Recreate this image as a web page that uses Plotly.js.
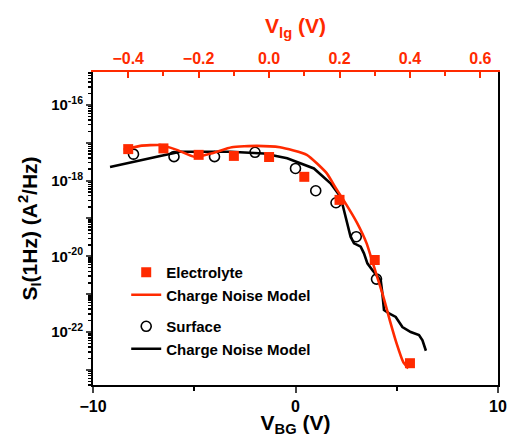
<!DOCTYPE html>
<html>
<head>
<meta charset="utf-8">
<script src="https://cdn.plot.ly/plotly-3.0.1.min.js"></script>
<style>
  html, body { margin: 0; padding: 0; background: #fff; }
  #chart { width: 508px; height: 437px; }
</style>
</head>
<body>
<div id="chart"></div>
<script>
// Electrolyte-gated measurement (plotted against the top V_lg axis)
const electrolyteVlg = [-0.4, -0.3, -0.2, -0.1, 0.0, 0.1, 0.2, 0.3, 0.4];
const electrolyteS   = [6.8e-18, 7.1e-18, 4.8e-18, 4.5e-18, 4.2e-18, 1.26e-18, 3.1e-19, 8.0e-21, 1.5e-23];

// Charge noise model for the electrolyte gate
const modelLgV = [-0.413, -0.366, -0.309, -0.262, -0.210, -0.159, -0.106, -0.035, 0.031, 0.107,
                  0.164, 0.187, 0.211, 0.249, 0.277, 0.296, 0.324, 0.343, 0.362, 0.381, 0.395];
const modelLgS = [6.5e-18, 8.3e-18, 8.7e-18, 6.5e-18, 4.2e-18, 5.4e-18, 7.6e-18, 8.3e-18, 7.6e-18, 4.8e-18,
                  1.55e-18, 6.9e-19, 3.1e-19, 7.9e-20, 2.2e-20, 6.0e-21, 8.9e-22, 2.0e-22, 5.0e-23, 1.6e-23, 1.1e-23];

// Surface (back-gated) measurement (bottom V_BG axis)
const surfaceVbg = [-8, -6, -4, -2, 0, 1, 2, 3, 4];
const surfaceS   = [5.0e-18, 4.3e-18, 4.3e-18, 5.6e-18, 2.1e-18, 5.4e-19, 2.6e-19, 3.3e-20, 2.5e-21];

// Charge noise model for the back gate
const modelBgV = [-9.16, -8.00, -6.68, -5.69, -4.86, -3.22, -1.57, -0.41, 0.91, 1.73,
                  2.23, 2.39, 2.56, 2.72, 2.89, 3.22, 3.38, 3.55, 3.80, 4.04,
                  4.21, 4.29, 4.37, 4.62, 4.95, 5.28, 5.69, 6.10, 6.27, 6.44];
const modelBgS = [2.3e-18, 3.2e-18, 4.5e-18, 5.8e-18, 5.8e-18, 5.8e-18, 5.2e-18, 3.9e-18, 2.1e-18, 8.5e-19,
                  3.7e-19, 1.66e-19, 7.4e-20, 3.3e-20, 2.2e-20, 1.8e-20, 1.2e-20, 6.5e-21, 4.3e-21, 2.9e-21,
                  2.3e-21, 1.05e-21, 3.8e-22, 3.1e-22, 2.5e-22, 1.35e-22, 1.0e-22, 8.3e-23, 6.0e-23, 3.2e-23];

// Decade ticks, labelled every second decade
const decadeExp = [-23, -22, -21, -20, -19, -18, -17, -16, -15];
const decadeVals = decadeExp.map(e => Math.pow(10, e));
const decadeText = decadeExp.map(e => (e % 2 === 0) ? '10<sup>' + e + '</sup>' : '');

const RED = '#ff2a00';
const FONT = 'Liberation Sans, Arial, sans-serif';

const traces = [
  {
    x: electrolyteVlg, y: electrolyteS, xaxis: 'x2', yaxis: 'y',
    mode: 'markers', name: 'Electrolyte', legendgroup: 'e',
    marker: { symbol: 'square', size: 10, color: RED }
  },
  {
    x: modelLgV, y: modelLgS, xaxis: 'x2', yaxis: 'y',
    mode: 'lines', name: 'Charge Noise Model', legendgroup: 'e',
    line: { color: RED, width: 2.6, shape: 'spline', smoothing: 0.5 }
  },
  {
    x: surfaceVbg, y: surfaceS, xaxis: 'x', yaxis: 'y',
    mode: 'markers', name: 'Surface', legendgroup: 's',
    marker: { symbol: 'circle-open', size: 10, color: '#000', line: { width: 1.6, color: '#000' } }
  },
  {
    x: modelBgV, y: modelBgS, xaxis: 'x', yaxis: 'y',
    mode: 'lines', name: 'Charge Noise Model', legendgroup: 's',
    line: { color: '#000', width: 2.6 }
  }
];

const yRange = [-23.4, -15.13];

const layout = {
  width: 508, height: 437,
  margin: { l: 93, r: 10, t: 72, b: 52 },
  paper_bgcolor: '#fff', plot_bgcolor: '#fff',
  font: { family: FONT, size: 16, color: '#000', weight: 'bold' },
  showlegend: true,
  legend: {
    x: 0.082, y: 0.412, xanchor: 'left', yanchor: 'top',
    bgcolor: 'rgba(0,0,0,0)', traceorder: 'grouped', tracegroupgap: 9,
    font: { family: FONT, size: 15, color: '#000', weight: 'bold' }
  },
  xaxis: {
    range: [-10, 10], tickvals: [-10, 0, 10], ticks: 'outside', ticklen: 6, tickwidth: 2,
    minor: { tickvals: [-5, 5], ticks: 'outside', ticklen: 4, tickwidth: 2, tickcolor: '#000' },
    showline: true, linecolor: '#000', linewidth: 2, showgrid: false, zeroline: false,
    tickfont: { family: FONT, size: 16, color: '#000', weight: 'bold' },
    title: { text: 'V<sub>BG</sub> (V)', standoff: 8,
             font: { family: FONT, size: 21, color: '#000', weight: 'bold' } }
  },
  xaxis2: {
    overlaying: 'x', side: 'top', anchor: 'y',
    range: [-0.5, 0.65], dtick: 0.2, tick0: 0, tickformat: '.1f',
    ticks: 'inside', ticklen: 6, tickwidth: 2, tickcolor: RED,
    minor: { dtick: 0.1, ticks: 'inside', ticklen: 4, tickwidth: 2, tickcolor: RED },
    showline: true, linecolor: RED, linewidth: 2, showgrid: false, zeroline: false,
    tickfont: { family: FONT, size: 16, color: RED, weight: 'bold' },
    title: { text: 'V<sub>lg</sub> (V)', standoff: 10,
             font: { family: FONT, size: 21, color: RED, weight: 'bold' } }
  },
  yaxis: {
    type: 'log', range: yRange,
    tickvals: decadeVals, ticktext: decadeText,
    ticks: 'outside', ticklen: 5, tickwidth: 2,
    minor: { dtick: 'D1', ticks: 'outside', ticklen: 3, tickwidth: 1.5, tickcolor: '#000' },
    showline: true, linecolor: '#000', linewidth: 2, mirror: true,
    showgrid: false, zeroline: false,
    tickfont: { family: FONT, size: 15, color: '#000', weight: 'bold' },
    title: { text: 'S<sub>I</sub>(1Hz) (A<sup>2</sup>/Hz)', standoff: 8,
             font: { family: FONT, size: 21, color: '#000', weight: 'bold' } }
  },
  yaxis2: {
    type: 'log', range: yRange, overlaying: 'y', side: 'left', anchor: 'x',
    tickvals: decadeVals, ticktext: decadeExp.map(() => ''),
    ticks: 'inside', ticklen: 5, tickwidth: 2, showticklabels: false,
    minor: { dtick: 'D1', ticks: 'inside', ticklen: 3, tickwidth: 1.5, tickcolor: '#000' },
    showline: false, showgrid: false, zeroline: false
  }
};

Plotly.newPlot('chart', traces, layout, { displayModeBar: false, staticPlot: true });
</script>
</body>
</html>
